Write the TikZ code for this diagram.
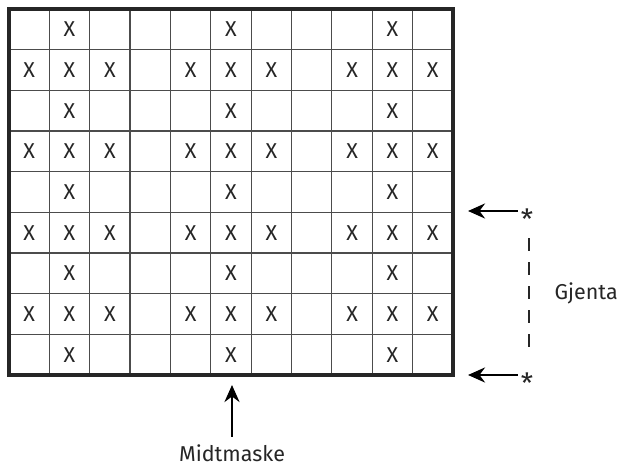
\documentclass[tikz,border=0pt]{standalone}
\usepackage{fontspec}
\setmainfont{Fira Sans}
\usetikzlibrary{arrows.meta}

\begin{document}
\begin{tikzpicture}[
    x=1pt, y=-1pt,
    every node/.style={font=\fontsize{21.5}{25}\selectfont\color{black!85}},
    gridline/.style={draw=black!70, line width=1.2pt},
    frame/.style={draw=black!85, line width=3.8pt},
    stitch/.style={inner sep=0pt},
    star/.style={inner sep=1pt, font=\fontsize{28}{30}\selectfont\color{black!85}},
    pil/.style={draw=black, line width=2.8pt, -{Stealth[length=17pt,width=15pt]}},
    repeatline/.style={draw=black!85, line width=2.8pt, dash pattern=on 13pt off 11pt}
]
\useasboundingbox (0,0) rectangle (621,473);

% Grid
\def\cw{40.36}
\def\ch{40.67}
\foreach \c in {1,...,10}
    \draw[gridline] (9+\c*\cw,9) -- (9+\c*\cw,375);
\foreach \r in {1,...,8}
    \draw[gridline] (9,9+\r*\ch) -- (453,9+\r*\ch);
\draw[frame] (9,9) rectangle (453,375);

% Stitches
\foreach \r in {1,3,5,7,9}
    \foreach \c in {2,6,10}
        \node[stitch] (x-\r-\c) at (9+\c*\cw-0.5*\cw,9+\r*\ch-0.5*\ch) {X};
\foreach \r in {2,4,6,8}
    \foreach \c in {1,2,3,5,6,7,9,10,11}
        \node[stitch] (x-\r-\c) at (9+\c*\cw-0.5*\cw,9+\r*\ch-0.5*\ch) {X};

% Middle stitch
\node (midt) at (232,453) {Midtmaske};
\coordinate (midtpil) at (232,385);
\draw[pil] (midt.north) ++(0,-4) -- (midtpil);

% Repeat
\node[star] (topstar) at (527,219) {*};
\node[star] (botstar) at (527,383) {*};
\coordinate (toppil) at (468,211);
\coordinate (botpil) at (468,375);
\draw[pil] (topstar.west |- toppil) ++(-2,0) -- (toppil);
\draw[pil] (botstar.west |- botpil) ++(-2,0) -- (botpil);
\draw[repeatline] (529,238) -- (529,347);
\node[anchor=west] (gjenta) at (551,293) {Gjenta};

\end{tikzpicture}
\end{document}
